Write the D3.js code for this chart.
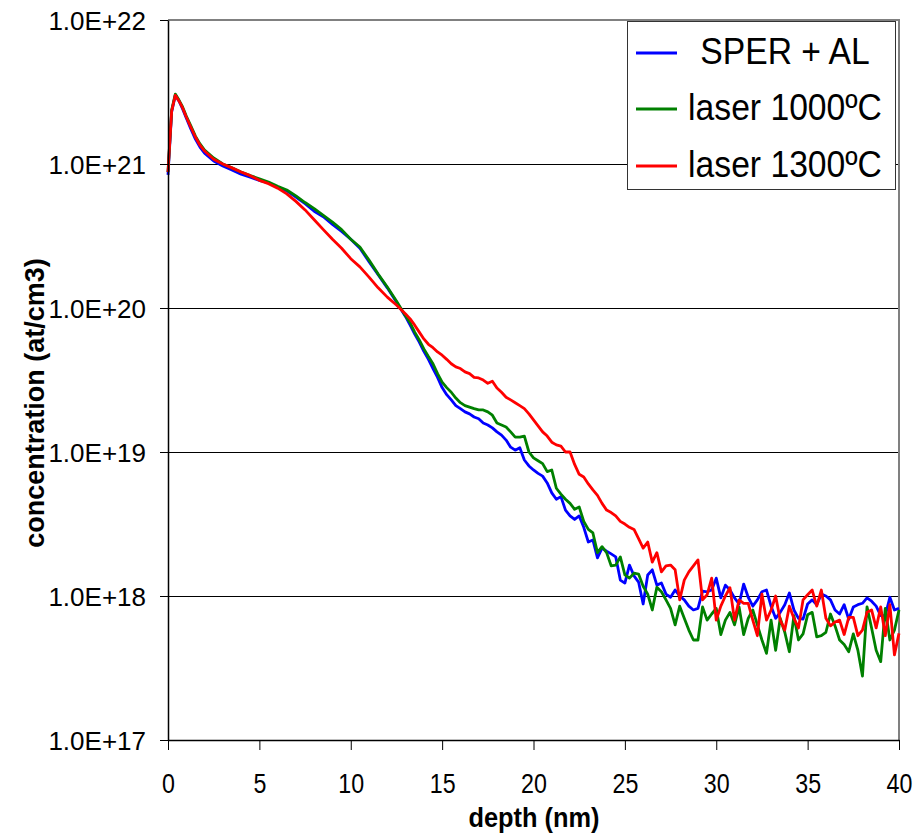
<!DOCTYPE html>
<html lang="en">
<head>
<meta charset="UTF-8">
<title>Concentration depth profiles</title>
<script src="https://cdn.jsdelivr.net/npm/d3@7"></script>
<style>
  body { margin: 0; background: #fff; }
  svg { display: block; font-family: "Liberation Sans", Arial, sans-serif; }
</style>
</head>
<body>
<script>
// depth (nm) sampling points
const depth = [
  0, 0.2, 0.4, 0.6, 0.8, 1, 1.25, 1.5, 1.75, 2,
  2.5, 3, 3.5, 4, 4.5, 5, 5.5, 6, 6.5, 7,
  7.5, 8, 8.5, 9, 9.5, 10, 10.5, 11, 11.5, 12,
  12.5,
  13, 13.25, 13.5, 13.75,  14, 14.25, 14.5, 14.75,
  15, 15.25, 15.5, 15.75,  16, 16.25, 16.5, 16.75,
  17, 17.25, 17.5, 17.75,  18, 18.25, 18.5, 18.75,
  19, 19.25, 19.5, 19.75,  20, 20.25, 20.5, 20.75,
  21, 21.25, 21.5, 21.75,  22, 22.25, 22.5, 22.75,
  23, 23.25, 23.5, 23.75,  24, 24.25, 24.5, 24.75,
  25, 25.25, 25.5, 25.75,  26, 26.25, 26.5, 26.75,
  27, 27.25, 27.5, 27.75,  28, 28.25, 28.5, 28.75,
  29, 29.25, 29.5, 29.75,  30, 30.25, 30.5, 30.75,
  31, 31.25, 31.5, 31.75,  32, 32.25, 32.5, 32.75,
  33, 33.25, 33.5, 33.75,  34, 34.25, 34.5, 34.75,
  35, 35.25, 35.5, 35.75,  36, 36.25, 36.5, 36.75,
  37, 37.25, 37.5, 37.75,  38, 38.25, 38.5, 38.75,
  39, 39.25, 39.5, 39.75,  40
];

// concentration (at/cm3)
const sperAl = [
  8.4e20, 2.3e21, 3.0e21, 2.74e21, 2.41e21, 2.09e21, 1.75e21, 1.49e21, 1.31e21, 1.19e21,
  1.05e21, 9.7e20, 9.1e20, 8.5e20, 8.1e20, 7.7e20, 7.4e20, 6.9e20, 6.5e20, 5.9e20,
  5.3e20, 4.7e20, 4.3e20, 3.8e20, 3.4e20, 3.0e20, 2.6e20, 2.1e20, 1.7e20, 1.38e20,
  1.1e20,
  8.7e19, 7.6e19, 6.6e19, 5.8e19,  5.0e19, 4.4e19, 3.8e19, 3.3e19,
  2.8e19, 2.5e19, 2.3e19, 2.1e19,  2.0e19, 1.9e19, 1.84e19, 1.75e19,
  1.7e19, 1.59e19, 1.54e19, 1.47e19,  1.38e19, 1.31e19, 1.21e19, 1.08e19,
  1.03e19, 1.07e19, 8.8e18, 8.0e18,  7.5e18, 7.1e18, 6.8e18, 6.1e18,
  5.2e18, 4.7e18, 4.9e18, 3.95e18,  3.6e18, 3.4e18, 3.6e18, 3.0e18,
  2.37e18, 2.45e18, 1.84e18, 2.15e18,  2.05e18, 1.96e18, 1.87e18, 1.29e18,
  1.23e18, 1.64e18, 1.38e18, 1.25e18,  8.8e17, 1.4e18, 1.52e18, 1.19e18,
  1.23e18, 1.03e18, 9.8e17, 1.1e18,  1.0e18, 9.4e17, 8.5e17, 8.0e17,
  8.2e17, 1.08e18, 1.07e18, 1.1e18,  1.33e18, 9.7e17, 1.19e18, 1.1e18,
  9.7e17, 8.8e17, 1.21e18, 9.8e17,  8.5e17, 9.4e17, 1.07e18, 1.1e18,
  8.5e17, 7.0e17, 7.7e17, 8.7e17,  1.05e18, 8.0e17, 7.0e17, 6.9e17,
  8.8e17, 9.4e17, 8.7e17, 1.03e18,  1.0e18, 9.4e17, 8.0e17, 7.5e17,
  8.7e17, 6.9e17, 8.4e17, 8.7e17,  8.9e17, 9.7e17, 9.2e17, 8.5e17,
  7.3e17, 7.3e17, 9.8e17, 8.0e17,  8.2e17
];

const laser1000 = [
  8.8e20, 2.37e21, 3.06e21, 2.78e21, 2.49e21, 2.15e21, 1.84e21, 1.56e21, 1.38e21, 1.25e21,
  1.1e21, 1.0e21, 9.4e20, 8.8e20, 8.3e20, 7.9e20, 7.5e20, 7.0e20, 6.6e20, 6.0e20,
  5.4e20, 4.9e20, 4.4e20, 3.95e20, 3.5e20, 3.0e20, 2.65e20, 2.15e20, 1.72e20, 1.4e20,
  1.12e20,
  8.8e19, 7.9e19, 6.8e19, 6.0e19,  5.2e19, 4.6e19, 4.1e19, 3.5e19,
  3.06e19, 2.8e19, 2.6e19, 2.37e19,  2.2e19, 2.1e19, 2.05e19, 2.0e19,
  1.96e19, 1.96e19, 1.9e19, 1.8e19,  1.59e19, 1.54e19, 1.49e19, 1.38e19,
  1.27e19, 1.27e19, 1.29e19, 1.0e19,  9.1e18, 8.7e18, 8.3e18, 7.3e18,
  7.5e18, 5.6e18, 5.1e18, 4.7e18,  4.4e18, 4.0e18, 4.15e18, 3.3e18,
  2.9e18, 2.74e18, 2.0e18, 2.2e18,  2.0e18, 1.62e18, 1.64e18, 1.87e18,
  1.4e18, 1.33e18, 1.44e18, 1.42e18,  1.17e18, 1.03e18, 8.0e17, 1.15e18,
  1.07e18, 9.4e17, 8.2e17, 6.3e17,  8.5e17, 7.0e17, 5.8e17, 4.95e17,
  4.95e17, 8.4e17, 6.8e17, 7.5e17,  8.2e17, 5.4e17, 6.8e17, 7.7e17,
  6.3e17, 8.4e17, 5.4e17, 7.0e17,  8.0e17, 6.3e17, 4.95e17, 4.0e17,
  6.8e17, 4.2e17, 7.0e17, 5.6e17,  4.1e17, 7.3e17, 4.95e17, 5.45e17,
  7.4e17, 7.7e17, 5.2e17, 5.3e17,  5.6e17, 7.5e17, 6.2e17, 4.95e17,
  4.6e17, 4.1e17, 5.45e17, 4.2e17,  2.78e17, 8.4e17, 6.0e17, 4.2e17,
  3.5e17, 8.2e17, 4.95e17, 5.8e17,  8.0e17
];

const laser1300 = [
  8.8e20, 2.33e21, 3.0e21, 2.74e21, 2.45e21, 2.12e21, 1.8e21, 1.54e21, 1.35e21, 1.23e21,
  1.08e21, 1.0e21, 9.4e20, 8.8e20, 8.3e20, 7.7e20, 7.3e20, 6.8e20, 6.2e20, 5.5e20,
  4.8e20, 4.1e20, 3.5e20, 3.0e20, 2.6e20, 2.2e20, 1.93e20, 1.64e20, 1.38e20, 1.19e20,
  1.05e20,
  9.1e19, 8.4e19, 7.6e19, 6.8e19,  6.1e19, 5.6e19, 5.3e19, 4.95e19,
  4.7e19, 4.4e19, 4.1e19, 3.9e19,  3.8e19, 3.6e19, 3.5e19, 3.3e19,
  3.27e19, 3.16e19, 3.0e19, 3.1e19,  2.78e19, 2.6e19, 2.4e19, 2.3e19,
  2.2e19, 2.1e19, 2.0e19, 1.84e19,  1.67e19, 1.52e19, 1.38e19, 1.29e19,
  1.17e19, 1.12e19, 1.1e19, 1.0e19,  1.0e19, 8.2e18, 7.0e18, 6.7e18,
  6.0e18, 5.45e18, 5.0e18, 4.4e18,  3.95e18, 3.8e18, 3.6e18, 3.3e18,
  3.16e18, 3.0e18, 2.9e18, 2.5e18,  2.15e18, 2.37e18, 1.72e18, 2.0e18,
  1.47e18, 1.62e18, 1.64e18, 1.52e18,  9.4e17, 1.29e18, 1.47e18, 1.62e18,
  1.78e18, 9.4e17, 1.02e18, 1.33e18,  6.8e17, 8.5e17, 1.0e18, 1.14e18,
  6.8e17, 9.4e17, 8.9e17, 8.9e17,  6.8e17, 5.3e17, 1.03e18, 6.8e17,
  8.0e17, 1.0e18, 6.8e17, 5.8e17,  8.5e17, 7.0e17, 6.0e17, 9.4e17,
  1.02e18, 1.1e18, 8.5e17, 1.1e18,  7.0e17, 6.2e17, 6.6e17, 6.8e17,
  5.4e17, 7.1e17, 7.1e17, 5.3e17,  5.8e17, 7.7e17, 8.0e17, 6.0e17,
  8.4e17, 5.3e17, 8.7e17, 3.9e17,  5.5e17
];

const seriesNames = ["SPER + AL", "laser 1000\u00baC", "laser 1300\u00baC"];
const seriesColors = ["#0000ff", "#008000", "#ff0000"];
const seriesValues = [sperAl, laser1000, laser1300];

const xTicks = [0, 5, 10, 15, 20, 25, 30, 35, 40];
const yTicks = [1e17, 1e18, 1e19, 1e20, 1e21, 1e22];
const yTickLabels = ["1.0E+17", "1.0E+18", "1.0E+19", "1.0E+20", "1.0E+21", "1.0E+22"];
const gridValues = [1e18, 1e19, 1e20, 1e21];

const w = 916;
const h = 836;

const x = d3.scaleLinear().domain([0, 40]).range([168, 899]);
const y = d3.scaleLog().domain([1e17, 1e22]).range([740, 20]);

const svg = d3.select('body')
  .append('svg')
  .attr('width', w)
  .attr('height', h);

// gridlines
svg.selectAll('line.grid')
  .data(gridValues)
  .enter()
  .append('line')
  .attr('class', 'grid')
  .attr('x1', x(0))
  .attr('x2', x(40) + 1)
  .attr('y1', d => Math.round(y(d)) + 0.5)
  .attr('y2', d => Math.round(y(d)) + 0.5)
  .attr('stroke', '#000')
  .attr('stroke-width', 1);

// gray frame on top and right
svg.append('path')
  .attr('d', `M${x(0)},${y(1e22)}H${x(40)}V${y(1e17)}`)
  .attr('fill', 'none')
  .attr('stroke', '#808080')
  .attr('stroke-width', 2);

// series lines
const line = d3.line()
  .x((d, i) => x(depth[i]))
  .y(d => y(d));

seriesValues.forEach((vals, k) => {
  svg.append('path')
    .datum(vals)
    .attr('d', line)
    .attr('fill', 'none')
    .attr('stroke', seriesColors[k])
    .attr('stroke-width', 2.8)
    .attr('stroke-linejoin', 'round');
});

// x axis
const xAxis = svg.append('g')
  .attr('transform', `translate(0,${y(1e17)})`)
  .call(d3.axisBottom(x).tickValues(xTicks).tickSize(10).tickSizeOuter(0).tickFormat(d3.format('d')));
xAxis.attr('font-family', null).attr('font-size', null);
xAxis.select('.domain').attr('stroke', '#000').attr('stroke-width', 1.5);
xAxis.selectAll('.tick line').attr('stroke', '#000');
xAxis.selectAll('.tick text')
  .attr('y', 53)
  .attr('dy', null)
  .attr('font-size', 28)
  .attr('fill', '#000')
  .attr('transform', 'scale(0.83,1)');

// y axis
const yAxis = svg.append('g')
  .attr('transform', `translate(${x(0)},0)`)
  .call(d3.axisLeft(y).tickValues(yTicks).tickSize(8).tickSizeOuter(0)
    .tickFormat((d, i) => yTickLabels[i]));
yAxis.attr('font-family', null).attr('font-size', null);
yAxis.select('.domain').attr('stroke', '#000').attr('stroke-width', 1.5);
yAxis.selectAll('.tick line').attr('stroke', '#000');
yAxis.selectAll('.tick text')
  .attr('x', -22)
  .attr('dy', '0.35em')
  .attr('font-size', 26)
  .attr('fill', '#000');

// axis titles
svg.append('text')
  .attr('transform', 'translate(534,827) scale(0.94,1)')
  .attr('text-anchor', 'middle')
  .attr('font-size', 27)
  .attr('font-weight', 'bold')
  .text('depth (nm)');

svg.append('text')
  .attr('transform', 'translate(44,403) rotate(-90)')
  .attr('text-anchor', 'middle')
  .attr('font-size', 27)
  .attr('font-weight', 'bold')
  .text('concentration (at/cm3)');

// legend
const legend = svg.append('g');
legend.append('rect')
  .attr('x', 627.5)
  .attr('y', 21.5)
  .attr('width', 268)
  .attr('height', 168)
  .attr('fill', '#fff')
  .attr('stroke', '#333')
  .attr('stroke-width', 1);

const legendRows = [53, 109, 166];
seriesNames.forEach((name, k) => {
  legend.append('line')
    .attr('x1', 636)
    .attr('x2', 677)
    .attr('y1', legendRows[k])
    .attr('y2', legendRows[k])
    .attr('stroke', seriesColors[k])
    .attr('stroke-width', 3);
  legend.append('text')
    .attr('transform', `translate(785,${legendRows[k] + 11}) scale(0.91,1)`)
    .attr('text-anchor', 'middle')
    .attr('font-size', 37)
    .text(name);
});
</script>
</body>
</html>
